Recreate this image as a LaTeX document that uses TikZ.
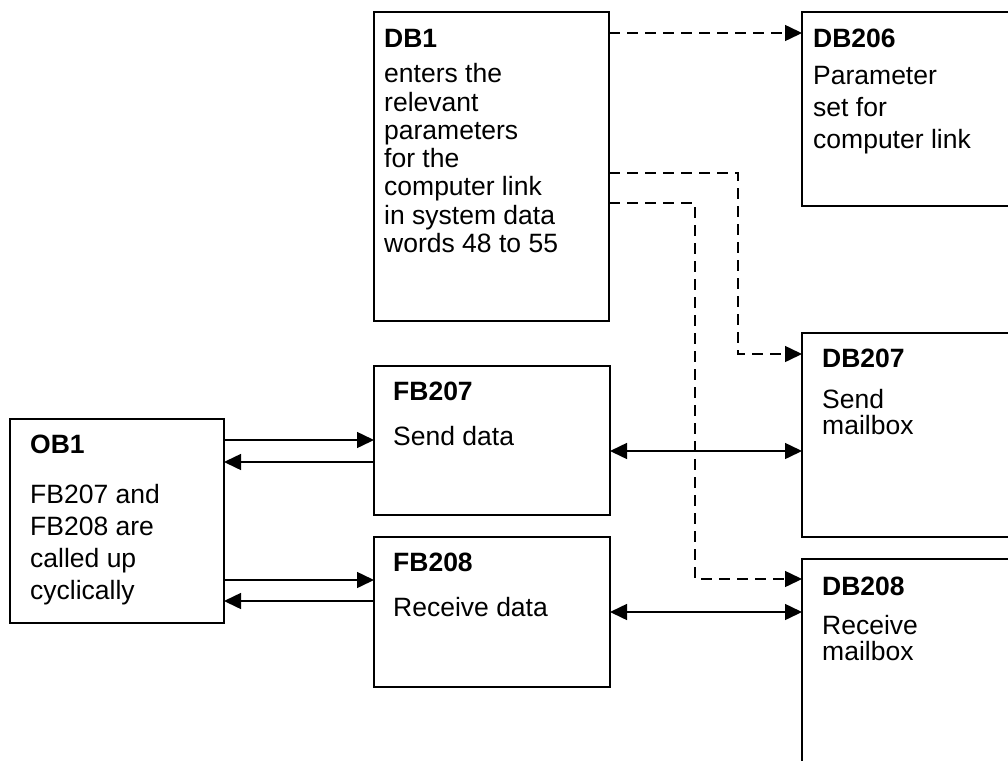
\documentclass[tikz,border=0pt]{standalone}
\usepackage{fontspec}
\setmainfont{Liberation Sans}
\usetikzlibrary{arrows.meta,calc}

\tikzset{
  block/.style={draw, line width=1.5pt, rectangle, inner sep=0pt, outer sep=0pt,
    anchor=north west},
  % multi-line texts are placed by the baseline of their last line
  blocktext/.style={anchor=base west, align=left, inner sep=0pt,
    font=\fontsize{26.5}{#1}\selectfont},
  blocktext/.default=28.3,
  link/.style={line width=1.5pt, -{Triangle[length=17pt,width=16pt]}},
  duplex/.style={line width=1.5pt, {Triangle[length=17pt,width=16pt]}-{Triangle[length=17pt,width=16pt]}},
  param/.style={link, dash pattern=on 11pt off 7pt},
}

\begin{document}
\begin{tikzpicture}[x=1pt, y=-1pt]
\useasboundingbox (0,0) rectangle (1008,760);
\begin{scope}
\clip (0,0) rectangle (1008,760);

% blocks
\node[block, minimum width=235pt, minimum height=309pt] (db1)   at (374,12)  {};
\node[block, minimum width=213pt, minimum height=194pt] (db206) at (802,12)  {};
\node[block, minimum width=213pt, minimum height=204pt] (db207) at (802,333) {};
\node[block, minimum width=213pt, minimum height=221pt] (db208) at (802,559) {};
\node[block, minimum width=236pt, minimum height=149pt] (fb207) at (374,366) {};
\node[block, minimum width=236pt, minimum height=150pt] (fb208) at (374,537) {};
\node[block, minimum width=214pt, minimum height=204pt] (ob1)   at (10,419)  {};

% block texts
\node[blocktext=28.3] (tdb1) at (384,252.5)
  {\textbf{DB1}\\[6.7pt]enters the\\relevant\\parameters\\for the\\computer link\\in system data\\words 48 to 55};
\node[blocktext=32] (tdb206) at (813,148)
  {\textbf{DB206}\\[5pt]Parameter\\set for\\computer link};
\node[blocktext=26] (tdb207) at (822,434)
  {\textbf{DB207}\\[15pt]Send\\mailbox};
\node[blocktext=26] (tdb208) at (822,660)
  {\textbf{DB208}\\[13pt]Receive\\mailbox};
\node[blocktext=45] (tfb207) at (393,445) {\textbf{FB207}\\Send data};
\node[blocktext=45] (tfb208) at (393,616) {\textbf{FB208}\\Receive data};
\node[blocktext=32] (tob1) at (30,599)
  {\textbf{OB1}\\[18pt]FB207 and\\FB208 are\\called up\\cyclically};

% calls between OB1 and the function blocks
\draw[link] ($(ob1.north east)+(0,21)$) -- ($(fb207.north west)+(0,74)$);
\draw[link] ($(fb207.north west)+(0,96)$) -- ($(ob1.north east)+(0,43)$);
\draw[link] ($(ob1.north east)+(0,161)$) -- ($(fb208.north west)+(0,43)$);
\draw[link] ($(fb208.north west)+(0,64)$) -- ($(ob1.north east)+(0,182)$);

% data exchange with the mailboxes
\draw[duplex] ($(fb207.north east)+(0,85)$) -- ($(db207.north west)+(0,118)$);
\draw[duplex] ($(fb208.north east)+(0,75)$) -- ($(db208.north west)+(0,53)$);

% parameter assignment from DB1
\draw[param] ($(db1.north east)+(0,21)$) -- ($(db206.north west)+(0,21)$);
\coordinate (k207) at (738,173);
\coordinate (k208) at (695,203);
\draw[param] ($(db1.north east)+(0,161)$) -- (k207) |- ($(db207.north west)+(0,21)$);
\draw[param] ($(db1.north east)+(0,191)$) -- (k208) |- ($(db208.north west)+(0,20)$);
\end{scope}
\end{tikzpicture}
\end{document}
